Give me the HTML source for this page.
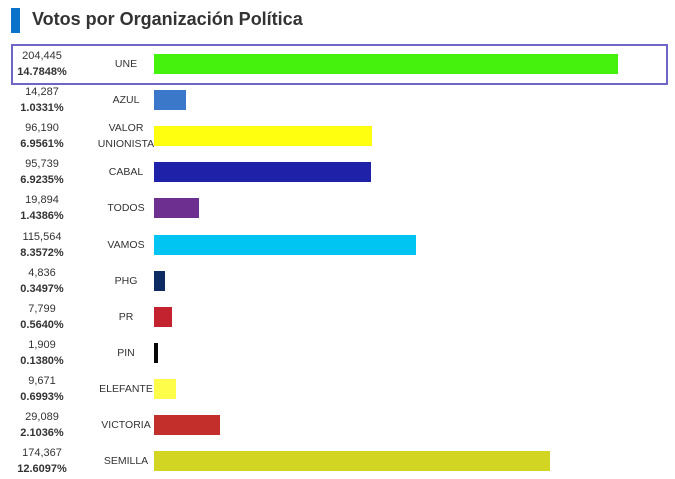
<!DOCTYPE html>
<html><head><meta charset="utf-8"><style>
body{margin:0;width:675px;height:479px;background:#fff;font-family:"Liberation Sans",sans-serif;overflow:hidden;position:relative}
.t{position:absolute;font-size:11px;color:#333;text-align:center}
.lb{font-size:10.5px}
</style></head><body>
<div style="position:absolute;left:11px;top:8px;width:9px;height:25px;background:#0b72c9"></div>
<div style="position:absolute;left:32px;top:9px;font-size:18px;font-weight:bold;color:#333">Votos por Organización Política</div>
<div style="position:absolute;left:11px;top:44px;width:653px;height:37px;border:2px solid #6e67c8"></div>
<div id="chart"></div>
<script>
const parties=["UNE","AZUL","VALOR UNIONISTA","CABAL","TODOS","VAMOS","PHG","PR","PIN","ELEFANTE","VICTORIA","SEMILLA"];
const votes=[204445,14287,96190,95739,19894,115564,4836,7799,1909,9671,29089,174367];
const percents=["14.7848%","1.0331%","6.9561%","6.9235%","1.4386%","8.3572%","0.3497%","0.5640%","0.1380%","0.6993%","2.1036%","12.6097%"];
const colors=["#44f20e","#3b78c9","#ffff10","#1f22a8","#6d2f90","#00c4f2","#0d2a63","#c3232f","#080808","#fdfd4a","#c3302c","#d2d522"];
const c=document.getElementById('chart');
const x0=154,maxW=464,maxV=Math.max(...votes);
const xs=v=>v/maxV*maxW;
const yRow=i=>64+i*36.1;
parties.forEach((p,i)=>{
 const y=yRow(i);
 const v=document.createElement('div');v.className='t';
 
 
 v.style.cssText=`left:2px;width:80px;top:${y-16}px;line-height:16px`;
 v.innerHTML=votes[i].toLocaleString('en-US')+'<br><b>'+percents[i]+'</b>';c.appendChild(v);
 const l=document.createElement('div');l.className='t lb';
 
 
 const two=p.includes(' ');
 l.style.cssText=`left:86px;width:80px;top:${y-(two?16:8)}px;line-height:16px`;
 l.innerHTML=p.replace(' ','<br>');c.appendChild(l);
 const b=document.createElement('div');
 
 
 b.style.cssText=`position:absolute;left:${x0}px;top:${y-10}px;height:20px;width:${xs(votes[i])}px;background:${colors[i]}`;
 c.appendChild(b);
});
</script>
</body></html>
